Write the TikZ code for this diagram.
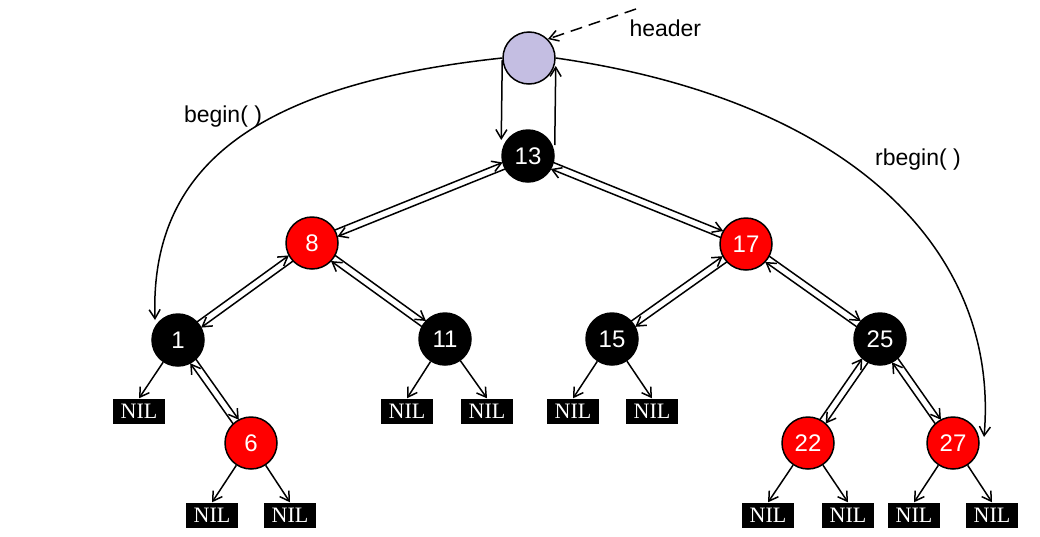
\documentclass[tikz,border=0pt]{standalone}
\usepackage{fontspec}
\setmainfont{Liberation Sans}
\usetikzlibrary{arrows.meta,calc}
\definecolor{lav}{RGB}{196,190,226}
\begin{document}
\begin{tikzpicture}[x=1pt,y=-1pt,
  ar/.style={-{Straight Barb[length=9pt,width=11pt]},line width=1.5pt},
  bn/.style={circle,draw,line width=1.5pt,fill=black,text=white,minimum size=52pt,inner sep=0pt,font=\fontsize{24}{24}\selectfont},
  rn/.style={bn,fill=red},
  nil/.style={fill=black,text=white,minimum width=52pt,minimum height=25pt,inner sep=0pt,font=\fontspec{Liberation Serif}\fontsize{22}{22}\selectfont},
  lab/.style={font=\fontsize{23}{23}\selectfont}]
\useasboundingbox (0,0) rectangle (1040,536);
\node[bn,fill=lav] (h) at (529,58) {};
\node[bn] (n13) at (528,156) {13};
\node[rn] (n8) at (312,243) {8};
\node[rn] (n17) at (746,244) {17};
\node[bn] (n1) at (178,340) {1};
\node[bn] (n11) at (445,339) {11};
\node[bn] (n15) at (612,339) {15};
\node[bn] (n25) at (880,339) {25};
\node[rn] (n6) at (251,443) {6};
\node[rn] (n22) at (808,443) {22};
\node[rn] (n27) at (953,443) {27};
\node[nil] (a1) at (139,411) {NIL};
\node[nil] (a2) at (407,411) {NIL};
\node[nil] (a3) at (487,411) {NIL};
\node[nil] (a4) at (573,411) {NIL};
\node[nil] (a5) at (652,411) {NIL};
\node[nil] (a6) at (212,515) {NIL};
\node[nil] (a7) at (290,515) {NIL};
\node[nil] (a8) at (768,515) {NIL};
\node[nil] (a9) at (848,515) {NIL};
\node[nil] (a10) at (914,515) {NIL};
\node[nil] (a11) at (992,515) {NIL};
\newcommand\dedge[2]{%
  \draw[ar,shorten <=26pt,shorten >=26pt] ($(#1)!3.5pt!90:(#2)$) -- ($(#2)!3.5pt!-90:(#1)$);
  \draw[ar,shorten <=26pt,shorten >=26pt] ($(#2)!3.5pt!90:(#1)$) -- ($(#1)!3.5pt!-90:(#2)$);}
\dedge{n13}{n8}\dedge{n13}{n17}\dedge{n8}{n1}\dedge{n8}{n11}
\dedge{n17}{n15}\dedge{n17}{n25}\dedge{n1}{n6}\dedge{n25}{n22}\dedge{n25}{n27}
\foreach \p/\c in {n1/a1,n11/a2,n11/a3,n15/a4,n15/a5,n6/a6,n6/a7,n22/a8,n22/a9,n27/a10,n27/a11}
  \draw[ar] (\p) -- (\c.north);
\draw[ar] (h.west |- 0,60) -- (n13.west |- 0,140);
\draw[ar] (n13.east |- 0,145) -- (h.east |- 0,66);
\coordinate (hd) at (636,9);
\draw[ar,dash pattern=on 12pt off 7pt] (hd) -- (h.north east);
\node[lab,anchor=west] (ht) at (626,28) {header};
\coordinate (b1) at (155,320);
\coordinate (r1) at (984,437);
\draw[ar] (h.west) .. controls (250,85) and (150,170) .. (b1);
\draw[ar] (h.east) .. controls (850,100) and (1000,250) .. (r1);
\node[lab] (bt) at (223,117) {begin( )};
\node[lab] (rt) at (918,160) {rbegin( )};
\end{tikzpicture}
\end{document}
